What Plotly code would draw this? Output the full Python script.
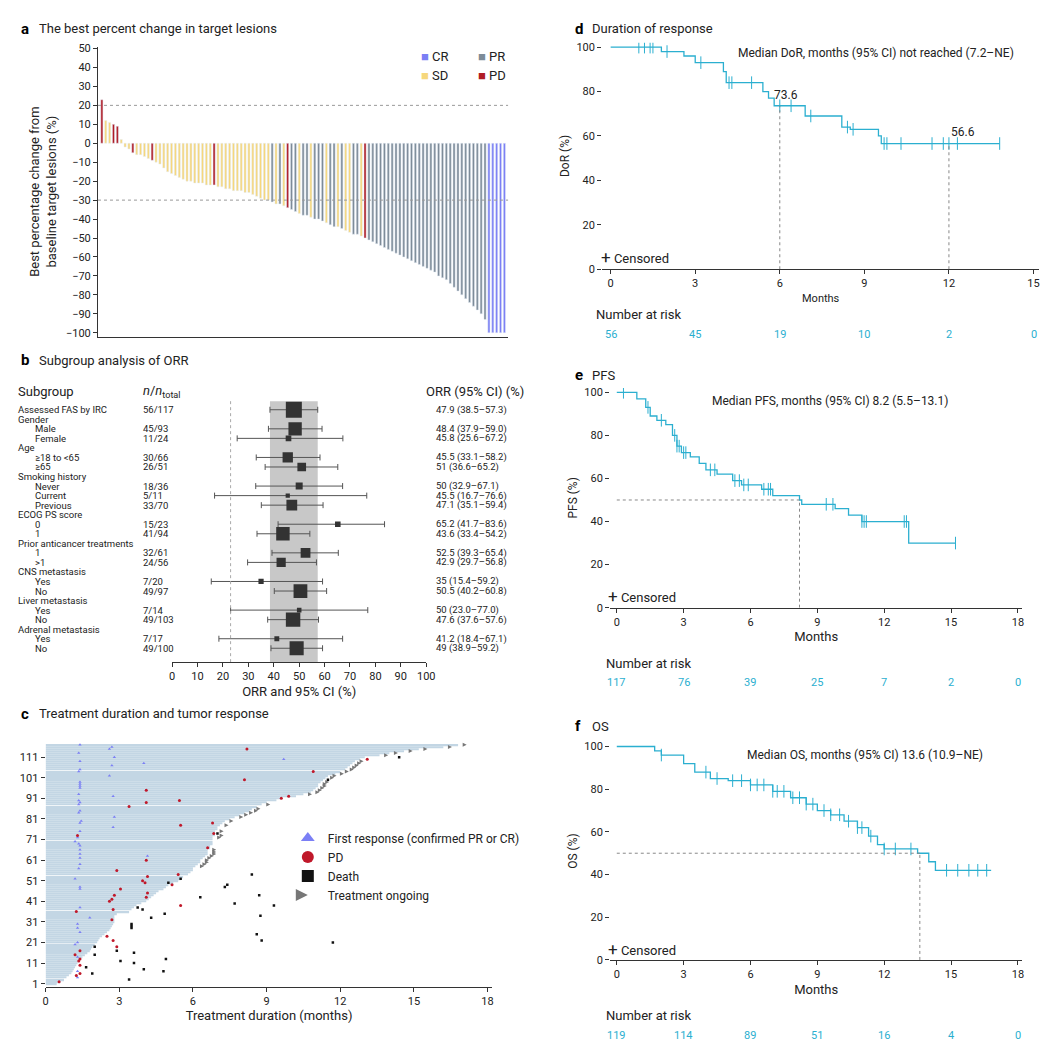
import numpy as np
import plotly.graph_objects as go

W, H = 1053, 1047
FONT = "Roboto"
CYAN = "#2bafd0"

# ---- panel a: waterfall ----
wf_values = [23, 12, 11, 10, 9, 2,
             -2, -3, -5, -6, -6, -7, -8, -9, -10, -11,
             -13, -15, -16, -17, -18, -19, -20, -20, -21, -21,
             -21, -22, -22, -22, -23, -23, -24, -24, -25, -25,
             -25, -26, -26, -27, -28, -29, -30, -30, -31, -32,
             -32, -33, -34, -35, -36, -37, -38, -38, -39, -40,
             -40, -41, -42, -43, -44, -44, -45, -46, -47, -48,
             -48, -49, -50, -51, -52, -53, -54, -55, -56, -57,
             -58, -59, -60, -61, -62, -63, -64, -65, -66, -67,
             -68, -70, -71, -72, -74, -76, -78, -80, -82, -84,
             -86, -88, -90, -93, -100, -100, -100, -100, -100]
wf_codes = ("PSSPPS" "SSPSSSSPSS" "SSSSSSSSSS" "SSSPSSSSSS" "SSSSSSSSGS"
            "GSPGGSGGSG" "GGSGGSGSSG" "GSPGGGGGGG" "GGGGGGGGGG" "GGGGGGGGGG" "GGGGCCCCC")
resp_colors = {"C": "#7b7ff5", "G": "#7d8b98", "S": "#f6d77c", "P": "#b01c26"}
resp_names = {"C": "CR", "G": "PR", "S": "SD", "P": "PD"}

# ---- panel b: forest ----
fp_labels = ["Assessed FAS by IRC", "Gender", "Male", "Female", "Age", "≥18 to <65", "≥65",
             "Smoking history", "Never", "Current", "Previous", "ECOG PS score", "0", "1",
             "Prior anticancer treatments", "1", ">1", "CNS metastasis", "Yes", "No",
             "Liver metastasis", "Yes", "No", "Adrenal metastasis", "Yes", "No"]
fp_indent = [0, 0, 1, 1, 0, 1, 1, 0, 1, 1, 1, 0, 1, 1, 0, 1, 1, 0, 1, 1, 0, 1, 1, 0, 1, 1]
fp_n = ["56/117", "", "45/93", "11/24", "", "30/66", "26/51", "", "18/36", "5/11", "33/70", "",
        "15/23", "41/94", "", "32/61", "24/56", "", "7/20", "49/97", "", "7/14", "49/103", "",
        "7/17", "49/100"]
fp_total = [117, None, 93, 24, None, 66, 51, None, 36, 11, 70, None, 23, 94, None, 61, 56, None,
            20, 97, None, 14, 103, None, 17, 100]
fp_est = [47.9, None, 48.4, 45.8, None, 45.5, 51, None, 50, 45.5, 47.1, None, 65.2, 43.6, None,
          52.5, 42.9, None, 35, 50.5, None, 50, 47.6, None, 41.2, 49]
fp_lo = [38.5, None, 37.9, 25.6, None, 33.1, 36.6, None, 32.9, 16.7, 35.1, None, 41.7, 33.4, None,
         39.3, 29.7, None, 15.4, 40.2, None, 23.0, 37.6, None, 18.4, 38.9]
fp_hi = [57.3, None, 59.0, 67.2, None, 58.2, 65.2, None, 67.1, 76.6, 59.4, None, 83.6, 54.2, None,
         65.4, 56.8, None, 59.2, 60.8, None, 77.0, 57.6, None, 67.1, 59.2]

# ---- panel c: swimmer ----
sw_duration = [0.45, 0.6, 0.75, 0.85, 0.95, 1.05, 1.1, 1.15, 1.2, 1.25,
               1.3, 1.35, 1.4, 1.5, 1.6, 1.7, 1.8, 1.85, 1.9, 2.0,
               2.1, 2.15, 2.2, 2.3, 2.4, 2.5, 2.6, 2.65, 2.7, 2.75,
               2.8, 2.8, 2.8, 2.8, 2.9, 3.4, 3.5, 3.6, 3.7, 3.9,
               4.1, 4.2, 4.3, 4.4, 4.5, 4.6, 4.8, 4.9, 5.0, 5.2,
               5.4, 5.5, 5.6, 5.8, 5.9, 6.0, 6.0, 6.1, 6.2, 6.3,
               6.3, 6.4, 6.5, 6.6, 6.6, 6.6, 6.7, 6.7, 6.8, 6.8,
               6.8, 6.8, 6.9, 6.9, 6.9, 7.0, 7.0, 7.1, 7.2, 7.3,
               7.5, 7.7, 7.9, 8.1, 8.3, 8.4, 8.6, 8.8, 9.0, 9.4,
               9.6, 10.2, 10.5, 10.8, 10.9, 11.0, 11.1, 11.1, 11.2, 11.3,
               11.4, 11.5, 11.8, 12.0, 12.2, 12.3, 12.4, 12.5, 12.6, 12.8,
               13.0, 13.6, 14.0, 14.6, 15.2, 16.2, 16.8]
sw_ongoing = [58, 59, 60, 61, 62, 63, 64, 65, 66, 72, 73, 75, 78, 80, 82, 83, 84, 85, 86, 88,
              93, 94, 95, 96, 97, 98, 99, 101, 102, 103, 104, 105, 106, 107, 108, 109, 112,
              113, 114, 115, 116, 117]
sw_death_pt = [3, 6, 7, 8, 9, 11, 12, 13, 15, 16, 17, 19, 21, 22, 25, 28, 29, 30, 33, 34, 35,
               37, 38, 39, 40, 43, 44, 48, 49, 50, 52, 54, 74, 100, 111]
sw_death_mo = [3.4, 1.9, 4.8, 4.0, 1.65, 3.6, 3.05, 4.9, 2.0, 3.6, 2.9, 2.0, 11.7, 8.8, 8.6, 3.5,
               3.5, 3.5, 4.3, 8.75, 4.85, 3.95, 3.75, 9.3, 7.7, 6.3, 8.7, 7.3, 7.4, 5.0, 5.5, 8.4,
               7.0, 11.5, 14.4]
sw_pd_pt = [2, 5, 6, 10, 12, 13, 15, 17, 19, 22, 24, 32, 36, 37, 39, 41, 42, 43, 44, 45, 47, 49,
            50, 51, 53, 54, 56, 61, 67, 73, 74, 78, 79, 87, 89, 90, 91, 92, 95, 100, 104, 110, 115]
sw_pd_mo = [0.55, 1.25, 1.4, 1.4, 1.35, 1.4, 1.2, 1.4, 2.9, 2.75, 2.5, 2.7, 1.25, 2.75, 5.5, 2.6,
            2.7, 4.1, 2.8, 4.15, 3.05, 5.15, 4.05, 3.95, 4.15, 5.4, 2.9, 4.1, 6.6, 1.3, 6.85, 5.5,
            6.8, 3.4, 4.1, 5.45, 9.6, 9.9, 4.1, 8.1, 10.9, 13.1, 8.2]
sw_resp_pt = [4, 7, 14, 20, 21, 26, 28, 30, 33, 38, 47, 48, 52, 57, 59, 62, 63, 64, 66, 68, 69,
              70, 72, 75, 77, 79, 80, 82, 84, 85, 88, 89, 90, 92, 93, 95, 96, 97, 98, 99, 102,
              104, 105, 107, 108, 109, 110, 111, 113, 115, 116, 117]
sw_resp_mo = [1.3, 1.3, 1.3, 1.2, 1.3, 1.4, 1.3, 1.3, 1.8, 1.4, 1.4, 1.4, 1.2, 1.35, 1.4, 1.4,
              4.15, 1.4, 1.4, 1.4, 1.35, 1.2, 1.3, 1.4, 2.75, 1.4, 1.45, 2.8, 1.35, 1.4, 1.35, 1.4,
              1.35, 2.75, 1.35, 4.1, 1.4, 1.4, 1.4, 1.4, 2.6, 1.35, 1.4, 2.7, 4.0, 1.4, 9.7, 2.8,
              1.35, 2.6, 2.7, 1.4]

# ---- KM curves ----
dor_t = [0, 1.8, 2.6, 3.0, 4.0, 4.1, 5.4, 5.6, 5.8, 6.9, 8.2, 8.5, 9.5, 9.6, 13.8]
dor_s = [100, 98, 96, 93, 89, 84, 80, 77, 73.6, 69, 64, 63, 60, 56.6, 56.6]
dor_cens = [1.0, 1.2, 1.4, 1.5, 2.0, 3.2, 4.2, 4.3, 5.0, 6.0, 6.4, 7.1, 8.4, 8.6, 9.7, 9.8,
            10.3, 11.4, 11.8, 12.0, 12.3, 13.8]
pfs_t = [0, 0.9, 1.3, 1.5, 1.8, 2.2, 2.5, 2.7, 2.9, 3.3, 3.7, 4.0, 4.5, 5.2, 5.6, 6.5, 7.0,
         8.2, 8.3, 9.8, 10.4, 11.0, 13.1, 15.2]
pfs_s = [100, 97, 93, 89, 87, 85, 80, 75, 72, 70, 67, 64, 62, 59, 57, 55, 52, 50, 48, 46, 43,
         40, 30, 30]
pfs_cens = [0.3, 1.4, 2.0, 2.6, 2.7, 2.8, 3.0, 3.1, 4.2, 4.4, 5.3, 5.5, 5.7, 5.9, 6.6, 6.8,
            6.9, 9.4, 9.7, 11.0, 11.1, 11.2, 12.9, 13.0, 15.2]
os_t = [0, 1.7, 2.0, 3.0, 3.5, 4.2, 5.0, 6.0, 7.0, 7.8, 8.5, 9.0, 9.6, 10.2, 10.8, 11.3, 11.7,
        12.0, 13.5, 14.0, 14.3, 16.8]
os_s = [100, 98, 96, 92, 88, 85, 84, 82, 79, 76, 73, 70, 68, 65, 62, 58, 54, 52, 50, 46, 42, 42]
os_cens = [2.0, 4.0, 4.5, 5.2, 5.6, 6.0, 6.3, 6.6, 7.0, 7.2, 7.5, 7.9, 8.2, 8.5, 8.8, 9.3, 9.6,
           10.0, 10.4, 10.8, 11.0, 11.4, 12.0, 12.5, 13.2, 14.8, 15.3, 15.8, 16.2, 16.6]
dor_risk = [56, 45, 19, 10, 2, 0]
pfs_risk = [117, 76, 39, 25, 7, 2, 0]
os_risk = [119, 114, 89, 51, 16, 4, 0]


def px_x(p):
    return p / W


def px_y(p):
    return 1 - p / H


def M(*ds, **kw):
    r = {}
    for d in ds:
        r.update(d)
    r.update(kw)
    return r


fig = go.Figure()
ax_font = dict(family=FONT, size=11, color="#222")


def axis(x0, x1, y0, y1):
    return dict(domain=[px_x(x0), px_x(x1)]), dict(domain=[px_y(y1), px_y(y0)])


# panel a
for code in "CGSP":
    idx = [i for i, c in enumerate(wf_codes) if c == code]
    fig.add_trace(go.Bar(x=idx, y=[wf_values[i] for i in idx], marker_color=resp_colors[code],
                         width=0.55, showlegend=False, xaxis="x", yaxis="y"))
for lvl in [20, -30]:
    fig.add_shape(type="line", xref="x", yref="y", x0=-1, x1=len(wf_values), y0=lvl, y1=lvl,
                  line=dict(color="#999", dash="dot", width=1))

# panel b
rows = list(range(len(fp_labels)))
fig.add_shape(type="rect", xref="x2", yref="y2", x0=38.5, x1=57.3, y0=-0.9, y1=26.45,
              fillcolor="#c8c8c8", line_width=0, layer="below")
fig.add_shape(type="line", xref="x2", yref="y2", x0=23, x1=23, y0=-0.9, y1=26.45,
              line=dict(color="#aaa", dash="dot", width=1))
for i in rows:
    if fp_est[i] is None:
        continue
    fig.add_trace(go.Scatter(x=[fp_est[i]], y=[i], mode="markers", showlegend=False,
                             marker=dict(symbol="square", color="#333", size=3 + fp_total[i] / 9),
                             error_x=dict(type="data", symmetric=False, array=[fp_hi[i] - fp_est[i]],
                                          arrayminus=[fp_est[i] - fp_lo[i]], color="#555",
                                          thickness=1, width=3),
                             xaxis="x2", yaxis="y2"))

# panel c
pts = list(range(1, len(sw_duration) + 1))
fig.add_trace(go.Bar(x=sw_duration, y=pts, orientation="h", marker_color="#c3d6e4",
                     marker_line_width=0, width=0.7, showlegend=False, xaxis="x3", yaxis="y3"))
fig.add_trace(go.Scatter(x=[sw_duration[p - 1] + 0.35 for p in sw_ongoing], y=sw_ongoing,
                         mode="markers", name="Treatment ongoing", legend="legend2", legendrank=4,
                         marker=dict(symbol="arrow-bar-right", size=4, color="#777"),
                         xaxis="x3", yaxis="y3"))
fig.add_trace(go.Scatter(x=sw_resp_mo, y=sw_resp_pt, mode="markers", legend="legend2",
                         name="First response (confirmed PR or CR)", legendrank=1,
                         marker=dict(symbol="triangle-up", size=3, color="#7b7ff5"),
                         xaxis="x3", yaxis="y3"))
fig.add_trace(go.Scatter(x=sw_pd_mo, y=sw_pd_pt, mode="markers", name="PD", legend="legend2",
                         legendrank=2, marker=dict(symbol="circle", size=3, color="#c0182a"),
                         xaxis="x3", yaxis="y3"))
fig.add_trace(go.Scatter(x=sw_death_mo, y=sw_death_pt, mode="markers", name="Death",
                         legend="legend2", legendrank=3,
                         marker=dict(symbol="square", size=2.5, color="#111"),
                         xaxis="x3", yaxis="y3"))


# KM panels
def km(t, s, cens, xa, ya):
    fig.add_trace(go.Scatter(x=t, y=s, mode="lines", line=dict(shape="hv", color=CYAN, width=1.3),
                             showlegend=False, xaxis=xa, yaxis=ya))
    idx = np.searchsorted(np.array(t), np.array(cens), side="right") - 1
    fig.add_trace(go.Scatter(x=cens, y=[s[i] for i in idx], mode="markers", showlegend=False,
                             marker=dict(symbol="line-ns", size=9, line=dict(color=CYAN, width=1)),
                             xaxis=xa, yaxis=ya))


km(dor_t, dor_s, dor_cens, "x4", "y4")
km(pfs_t, pfs_s, pfs_cens, "x5", "y5")
km(os_t, os_s, os_cens, "x6", "y6")

for xa, ya, tm, sv in [("x4", "y4", 6, 73.6), ("x4", "y4", 12, 56.6), ("x5", "y5", 8.2, 50),
                       ("x6", "y6", 13.6, 50)]:
    dash = dict(color="#888", dash="dot", width=1)
    fig.add_shape(type="line", xref=xa, yref=ya, x0=tm, x1=tm, y0=0, y1=sv, line=dash)
    if ya != "y4":
        fig.add_shape(type="line", xref=xa, yref=ya, x0=0, x1=tm, y0=sv, y1=sv, line=dash)

base = dict(showline=True, linecolor="#333", ticks="outside", ticklen=4, tickcolor="#333",
            tickfont=ax_font, showgrid=False, zeroline=False)
xa, ya = axis(88, 503, 35, 328)
layout = dict(
    xaxis=M(xa, range=[-1, len(wf_values)], showticklabels=False, showline=True,
            linecolor="#333", showgrid=False, zeroline=False, anchor="y"),
    yaxis=M(ya, base, range=[-102, 51], tickvals=list(range(-100, 51, 10)), anchor="x",
            title=dict(text="Best percentage change from<br>baseline target lesions (%)",
                       font=dict(family=FONT, size=13), standoff=6)),
)
xb, yb = axis(163, 420, 393, 657)
layout["xaxis2"] = M(xb, base, range=[0, 100], dtick=10, anchor="y2",
                     title=dict(text="ORR and 95% CI (%)", font=dict(family=FONT, size=13), standoff=4))
layout["yaxis2"] = M(yb, range=[26.45, -0.93], visible=False, anchor="x2")
xc, yc = axis(35, 487, 735, 985)
layout["xaxis3"] = M(xc, base, range=[0, 18.2], dtick=3, anchor="y3",
                     title=dict(text="Treatment duration (months)", font=dict(family=FONT, size=13),
                                standoff=4))
layout["yaxis3"] = M(yc, base, range=[-0.44, 119.7], tickvals=list(range(1, 112, 10)),
                     showline=False, anchor="x3")
for n, (x0, x1, y0, y1, xmax, title, yt) in {
        4: (598, 1040, 36, 260, 15, "Months", "DoR (%)"),
        5: (606, 1023, 385, 602, 18, "Months", "PFS (%)"),
        6: (606, 1023, 743, 958, 18, "Months", "OS (%)")}.items():
    xk, yk = axis(x0, x1, y0 - 5, y1)
    layout[f"xaxis{n}"] = M(xk, base, range=[-0.3, xmax + 0.2], dtick=3, anchor=f"y{n}",
                            title=dict(text=title, font=dict(family=FONT, size=13 if n > 4 else 11),
                                       standoff=4))
    layout[f"yaxis{n}"] = M(yk, base, range=[0, 102], dtick=20, anchor=f"x{n}", showline=False,
                            title=dict(text=yt, font=dict(family=FONT, size=12), standoff=4))

fig.update_layout(**layout)

ann = []


def txt(x, y, t, size=12, bold=False, color="#222", xanchor="left", xref="paper", yref="paper"):
    ann.append(dict(x=x if xref != "paper" else px_x(x), y=y if yref != "paper" else px_y(y),
                    xref=xref, yref=yref, text=f"<b>{t}</b>" if bold else t, showarrow=False,
                    xanchor=xanchor, yanchor="middle",
                    font=dict(family=FONT, size=size, color=color)))


for p, lab, t in [(17, "a", "The best percent change in target lesions"),
                  (352, "b", "Subgroup analysis of ORR"),
                  (709, "c", "Treatment duration and tumor response"),
                  (17, "d", "Duration of response"), (367, "e", "PFS"), (722, "f", "OS")]:
    x0 = 8 if lab in "abc" else 568
    txt(x0, p, lab, 15, bold=True, color="#000")
    txt(x0 + 18, p, t, 13)

# legend a
for i, code in enumerate("CGSP"):
    x0 = 413 + (i % 2) * 57
    y0 = 45 + (i // 2) * 19
    txt(x0, y0, f"<span style='color:{resp_colors[code]}'>■</span> {resp_names[code]}", 13)

# forest text columns
txt(5, 384, "Subgroup", 13)
txt(131, 384, "<i>n</i>/<i>n</i><sub>total</sub>", 13)
txt(418, 384, "ORR (95% CI) (%)", 13)
for i in rows:
    txt(5 + 17 * fp_indent[i], i, fp_labels[i], 9.5, yref="y2")
    txt(131, i, fp_n[i], 9.5, yref="y2")
    if fp_est[i] is not None:
        txt(428, i, f"{fp_est[i]:g} ({fp_lo[i]:.1f}–{fp_hi[i]:.1f})", 9.5, yref="y2")

# KM annotations
txt(733, 41, "Median DoR, months (95% CI) not reached (7.2–NE)", 12)
txt(707, 393, "Median PFS, months (95% CI) 8.2 (5.5–13.1)", 12)
txt(742, 751, "Median OS, months (95% CI) 13.6 (10.9–NE)", 12)
txt(770, 84, "73.6", 12)
txt(949, 121, "56.6", 12)
for y0 in [248, 590, 947]:
    txt(595 if y0 == 248 else 602, y0, "<span style='font-size:17px'>+</span> Censored", 13)
for y0, risk, xa in [(306, dor_risk, "x4"), (658, pfs_risk, "x5"), (1014, os_risk, "x6")]:
    txt(590 if xa == "x4" else 600, y0, "Number at risk", 13)
    for k, r in enumerate(risk):
        txt(k * 3, y0 + 20, str(r), 11, color=CYAN, xanchor="center", xref=xa)

fig.update_layout(
    annotations=ann, width=W, height=H, margin=dict(l=0, r=0, t=0, b=0),
    plot_bgcolor="white", paper_bgcolor="white", bargap=0.1, barmode="overlay",
    font=dict(family=FONT, size=12, color="#222"), showlegend=True,
    legend2=dict(x=px_x(280), y=px_y(820), xanchor="left", yanchor="top",
                 font=dict(family=FONT, size=12), itemsizing="constant",
                 traceorder="normal", bgcolor="rgba(0,0,0,0)"),
)

fig.write_html("out.html")
